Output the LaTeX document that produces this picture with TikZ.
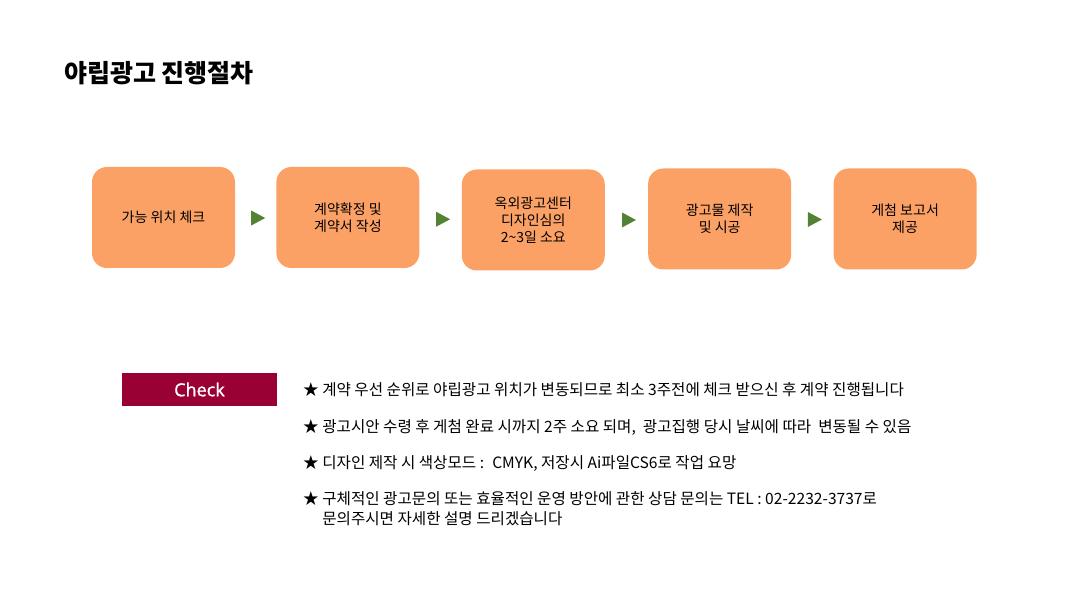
\documentclass[tikz,border=0pt]{standalone}
\usepackage{fontspec}
\setmainfont{Noto Sans CJK KR}
\newfontfamily\checkfont[FakeBold=1.2]{Open Sans}
\usetikzlibrary{calc,positioning,shapes.geometric}
\definecolor{stepfill}{RGB}{252,161,101}
\definecolor{arrowgreen}{RGB}{84,130,53}
\definecolor{checkred}{RGB}{153,0,51}

\begin{document}
\begin{tikzpicture}[
  x=1pt, y=-1pt,
  stepbox/.style={rectangle, rounded corners=15pt, fill=stepfill, minimum width=143pt, minimum height=101pt, inner sep=0pt, align=center, font=\fontsize{14}{17}\selectfont},
  steparrow/.style={isosceles triangle, isosceles triangle stretches, fill=arrowgreen, minimum width=15pt, minimum height=14pt, inner sep=0pt},
  note/.style={anchor=west, inner sep=0pt, align=left, font=\fontsize{15.6}{20}\selectfont}
]
\useasboundingbox (0,0) rectangle (1070,609);
% title
\node[anchor=west, inner sep=0pt, font=\fontsize{25}{28}\selectfont\bfseries] (title) at (64,73) {야립광고 진행절차};
% process steps
\node[stepbox] (b1) at (163.5,217.5) {가능 위치 체크};
\node[stepbox, right=41pt of b1] (b2) {계약확정 및\\계약서 작성};
\node[stepbox, right=42pt of b2, yshift=-2.5pt] (b3) {옥외광고센터\\디자인심의\\2\textasciitilde3일 소요};
\node[stepbox, right=43pt of b3, yshift=1pt] (b4) {광고물 제작\\및 시공};
\node[stepbox, right=42pt of b4] (b5) {게첨 보고서\\제공};
\foreach \i/\j in {1/2,2/3,3/4,4/5}
  \node[steparrow] (a\i) at ($(b\i.east)!0.5!(b\j.west)+(0,0.5)$) {};
% check list
\node[rectangle, fill=checkred, minimum width=155pt, minimum height=33pt, inner sep=0pt, text=white, font=\checkfont\fontsize{18}{20}\selectfont] (check) at (199.5,389.5) {Check};
\node[note] (n1) at (303,390) {★ 계약 우선 순위로 야립광고 위치가 변동되므로 최소 3주전에 체크 받으신 후 계약 진행됩니다};
\node[note] (n2) at (303,427) {★ 광고시안 수령 후 게첨 완료 시까지 2주 소요 되며,~ 광고집행 당시 날씨에 따라~ 변동될 수 있음};
\node[note] (n3) at (303,464) {★ 디자인 제작 시 색상모드 :~ CMYK, 저장시 Ai파일CS6로 작업 요망};
\node[note] (n4) at (303,509) {★ 구체적인 광고문의 또는 효율적인 운영 방안에 관한 상담 문의는 TEL : 02-2232-3737로\\\phantom{★ }문의주시면 자세한 설명 드리겠습니다};
\end{tikzpicture}
\end{document}
